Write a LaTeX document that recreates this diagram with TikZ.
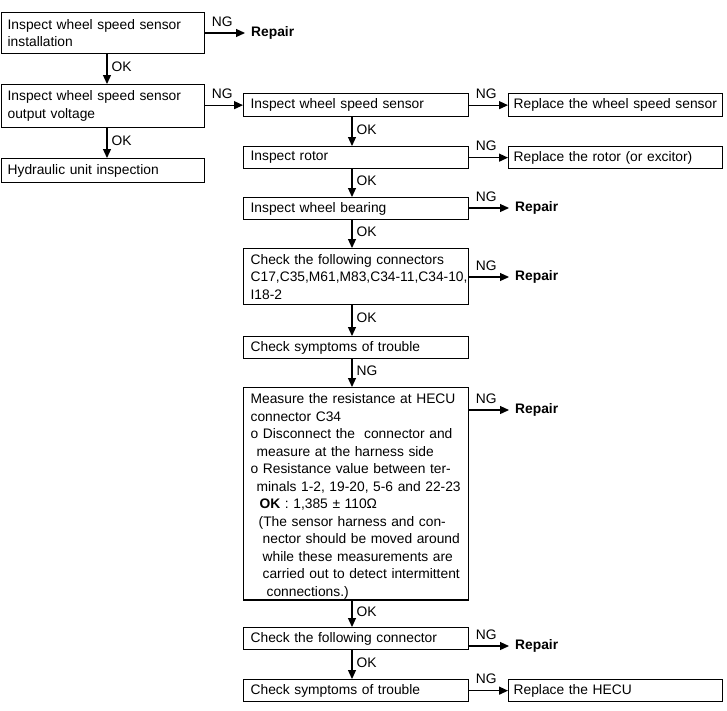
\documentclass[tikz,border=0pt]{standalone}
\usepackage{fontspec}
\setmainfont{Liberation Sans}
\usetikzlibrary{positioning, calc, arrows.meta}
\newcommand{\fsz}{\fontsize{13.8}{17.5}\selectfont}
\tikzset{stepbox/.style={draw, line width=1.3pt, anchor=north west, inner ysep=1pt, align=left, font=\fsz}}
\tikzset{lbox/.style={stepbox, inner xsep=6pt, text width=191pt}}
\tikzset{mbox/.style={stepbox, inner xsep=7pt, text width=211pt}}
\tikzset{ebox/.style={stepbox, inner xsep=5pt, text width=204pt}}
\tikzset{flow/.style={draw, line width=1.2pt, -{Triangle[length=9pt, width=8pt]}}}
\tikzset{lab/.style={font=\fsz, inner sep=1pt}}
\tikzset{oklab/.style={lab, pos=0.42, anchor=west, xshift=3pt}}
\tikzset{nglab/.style={lab, pos=0, anchor=south west, xshift=5pt, yshift=5pt}}
\tikzset{repair/.style={anchor=west, inner xsep=6pt, font=\fsz\bfseries}}

\begin{document}
\begin{tikzpicture}[x=1pt, y=-1pt]
	\useasboundingbox (0,0) rectangle (727,710);
	\coordinate (colL) at (107,0);
	\coordinate (colR) at (352,0);
	% left column
	\node[lbox, minimum height=41pt] (b1) at (1,12) {Inspect wheel speed sensor\\installation};
	\node[lbox, minimum height=43pt] (b2) at (1,84) {Inspect wheel speed sensor\\output voltage};
	\node[lbox, minimum height=24pt] (b3) at (1,158) {Hydraulic unit inspection};
	\node[repair] (r1) at (245,33) {Repair};
	% right column
	\node[mbox, minimum height=23pt] (c1) at (243,93) {Inspect wheel speed sensor};
	\node[mbox, minimum height=22pt] (c2) at (243,146) {Inspect rotor};
	\node[mbox, minimum height=22pt] (c3) at (243,197) {Inspect wheel bearing};
	\node[mbox, minimum height=56pt] (c4) at (243,248) {Check the following connectors\\\mbox{C17,C35,M61,M83,C34-11,C34-10,}\\I18-2};
	\node[mbox, minimum height=22pt] (c5) at (243,336) {Check symptoms of trouble};
	\node[mbox, minimum height=210pt] (c6) at (243,387) {\rule{0pt}{15pt}Measure the resistance at HECU\\connector C34\\
		o Disconnect the\ \ connector and\\\hspace*{6pt}measure at the harness side\\
		o Resistance value between ter-\\\hspace*{6pt}minals 1-2, 19-20, 5-6 and 22-23\\
		\hspace*{9pt}\textbf{OK} : 1,385 ± 110Ω\\\hspace*{8pt}(The sensor harness and con-\\
		\hspace*{12pt}nector should be moved around\\\hspace*{12pt}while these measurements are\\
		\hspace*{12pt}carried out to detect intermittent\\\hspace*{16pt}connections.)};
	\node[mbox, minimum height=22pt] (c7) at (243,627) {Check the following connector};
	\node[mbox, minimum height=22pt] (c8) at (243,679) {Check symptoms of trouble};
	% results
	\node[ebox, minimum height=23pt] (e1) at (508,93) {Replace the wheel speed sensor};
	\node[ebox, minimum height=22pt] (e2) at (508,146) {Replace the rotor (or excitor)};
	\node[repair] (r3) at (509,208) {Repair};
	\node[repair] (r4) at (509,277) {Repair};
	\node[repair] (r6) at (509,410) {Repair};
	\node[repair] (r7) at (509,646) {Repair};
	\node[ebox, minimum height=22pt] (e8) at (508,679) {Replace the HECU};
	%
	\draw[flow] (b1.south -| colL) -- node[oklab]{OK} (b2.north -| colL);
	\draw[flow] (b2.south -| colL) -- node[oklab]{OK} (b3.north -| colL);
	\draw[flow] (b1.east |- r1) -- node[nglab]{NG} (r1);
	\draw[flow] (b2.east |- c1) -- node[nglab]{NG} (c1);
	\draw[flow] (c1.south -| colR) -- node[oklab]{OK} (c2.north -| colR);
	\draw[flow] (c2.south -| colR) -- node[oklab]{OK} (c3.north -| colR);
	\draw[flow] (c3.south -| colR) -- node[oklab]{OK} (c4.north -| colR);
	\draw[flow] (c4.south -| colR) -- node[oklab]{OK} (c5.north -| colR);
	\draw[flow] (c5.south -| colR) -- node[oklab]{NG} (c6.north -| colR);
	\draw[flow] (c6.south -| colR) -- node[oklab]{OK} (c7.north -| colR);
	\draw[flow] (c7.south -| colR) -- node[oklab]{OK} (c8.north -| colR);
	\draw[flow] (c1) -- node[nglab]{NG} (e1);
	\draw[flow] (c2) -- node[nglab]{NG} (e2);
	\draw[flow] (c3.east |- r3) -- node[nglab]{NG} (r3);
	\draw[flow] (c4.east |- r4) -- node[nglab]{NG} (r4);
	\draw[flow] (c6.east |- r6) -- node[nglab]{NG} (r6);
	\draw[flow] (c7.east |- r7) -- node[nglab]{NG} (r7);
	\draw[flow] (c8) -- node[nglab]{NG} (e8);
\end{tikzpicture}
\end{document}
